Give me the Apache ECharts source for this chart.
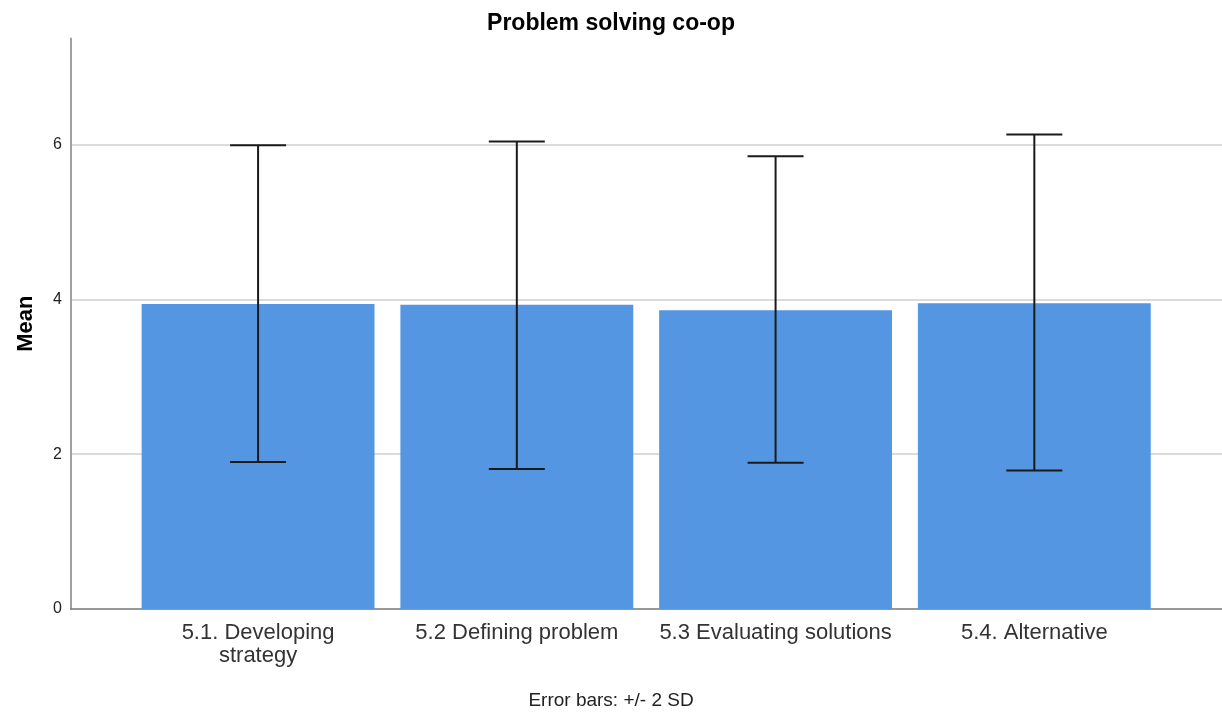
<!DOCTYPE html>
<html>
<head>
<meta charset="utf-8">
<script src="https://cdn.jsdelivr.net/npm/echarts@6/dist/echarts.min.js"></script>
<style>html,body{margin:0;padding:0;background:#fff}#c{width:1222px;height:712px}</style>
</head>
<body>
<div id="c"></div>
<script>
const categories = ['5.1. Developing\nstrategy', '5.2 Defining problem', '5.3 Evaluating solutions', '5.4. Alternative'];
const means = [3.94, 3.93, 3.86, 3.95];
const lowerBars = [1.90, 1.81, 1.89, 1.79];
const upperBars = [5.99, 6.04, 5.85, 6.13];
const yTicks = [0, 2, 4, 6];

const FONT = '"Liberation Sans", Arial, sans-serif';
const Y_MAX = 7.37;
const errData = categories.map((c, i) => [i, lowerBars[i], upperBars[i]]);

const chart = echarts.init(document.getElementById('c'));
chart.setOption({
  animation: false,
  backgroundColor: '#fff',
  title: [{
    text: 'Problem solving co-op', left: 'center', top: 7,
    textStyle: { fontFamily: FONT, fontSize: 23, fontWeight: 'bold', color: '#000' }
  }, {
    text: 'Error bars: +/- 2 SD', left: 'center', top: 686,
    textStyle: { fontFamily: FONT, fontSize: 19, fontWeight: 'normal', color: '#222' }
  }],
  grid: [
    { left: 71, right: 0, top: 38.5, bottom: 103 },
    { left: 128.7, right: 58.3, top: 38.5, bottom: 103 }
  ],
  xAxis: [
    { type: 'value', gridIndex: 0, min: 0, max: 1,
      axisLine: { show: true, onZero: false, lineStyle: { color: '#777', width: 1.5 } },
      axisTick: { show: false }, axisLabel: { show: false }, splitLine: { show: false } },
    { type: 'category', gridIndex: 1, data: categories, boundaryGap: true,
      axisLine: { show: false }, axisTick: { show: false }, splitLine: { show: false },
      axisLabel: { fontFamily: FONT, fontSize: 22, color: '#333', margin: 12, lineHeight: 23, interval: 0 } }
  ],
  yAxis: [
    { type: 'value', gridIndex: 0, min: 0, max: Y_MAX, interval: 2,
      name: 'Mean', nameLocation: 'middle', nameGap: 34, nameRotate: 90,
      nameTextStyle: { fontFamily: FONT, fontSize: 22, fontWeight: 'bold', color: '#000' },
      axisLine: { show: true, lineStyle: { color: '#a0a0a0', width: 2 } },
      axisTick: { show: false },
      axisLabel: { fontFamily: FONT, fontSize: 16, color: '#222', margin: 9, showMaxLabel: false,
        padding: [6, 0, 0, 0],
        formatter: v => (yTicks.indexOf(v) >= 0 ? String(v) : '') },
      splitLine: { show: true, showMinLine: false, showMaxLine: false, lineStyle: { color: '#cfcfcf', width: 1.5 } } },
    { type: 'value', gridIndex: 1, min: 0, max: Y_MAX, show: false, splitLine: { show: false } }
  ],
  series: [
    { type: 'bar', xAxisIndex: 1, yAxisIndex: 1, data: means, barWidth: '90%',
      itemStyle: { color: '#5596e3' }, z: 2 },
    { type: 'custom', xAxisIndex: 1, yAxisIndex: 1, data: errData, z: 5,
      renderItem: function (params, api) {
        const x = api.value(0);
        const lo = api.coord([x, api.value(1)]);
        const hi = api.coord([x, api.value(2)]);
        const hw = 28;
        const st = { stroke: '#1a1a1a', lineWidth: 2 };
        return { type: 'group', children: [
          { type: 'line', shape: { x1: lo[0], y1: lo[1], x2: hi[0], y2: hi[1] }, style: st },
          { type: 'line', shape: { x1: hi[0] - hw, y1: hi[1], x2: hi[0] + hw, y2: hi[1] }, style: st },
          { type: 'line', shape: { x1: lo[0] - hw, y1: lo[1], x2: lo[0] + hw, y2: lo[1] }, style: st }
        ] };
      } }
  ]
});
</script>
</body>
</html>
